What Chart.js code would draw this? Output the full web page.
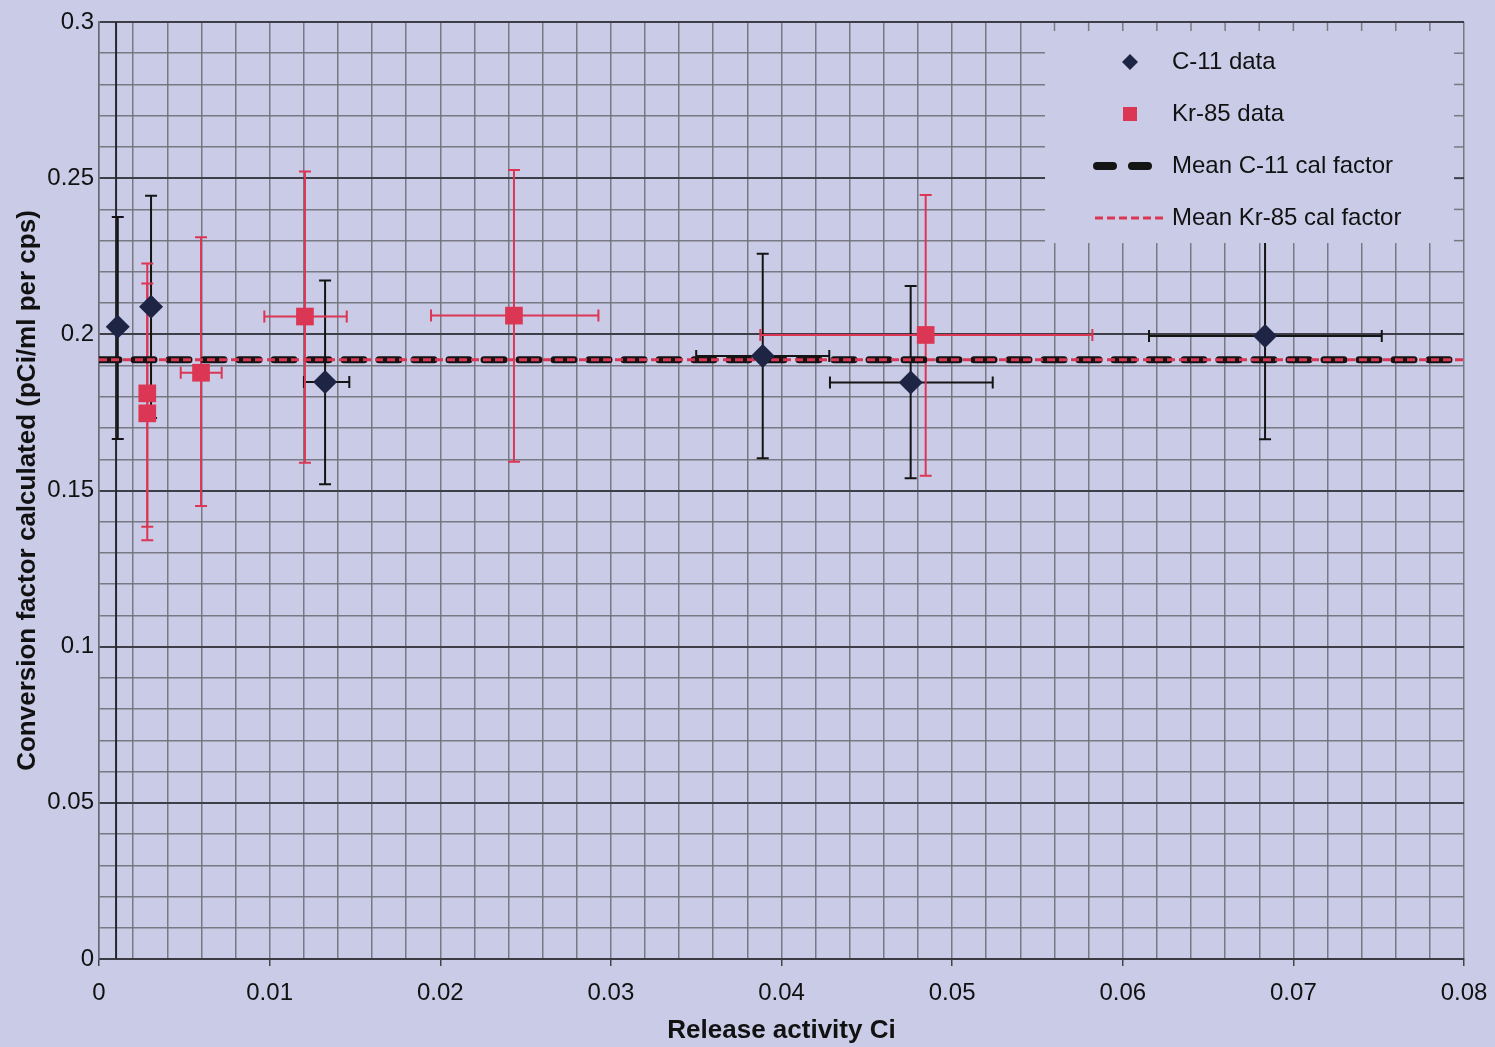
<!DOCTYPE html>
<html>
<head>
<meta charset="utf-8">
<script src="https://cdn.jsdelivr.net/npm/chart.js@4.4.1/dist/chart.umd.min.js"></script>
<style>
  html, body { margin: 0; padding: 0; background: #cacbe7; }
  #wrap { width: 1495px; height: 1047px; position: relative; }
</style>
</head>
<body>
<div id="wrap"><canvas id="c"></canvas></div>
<script>
// ---- Data ----
const c11X   = [0.0011, 0.00305, 0.01325, 0.0389, 0.04757, 0.06834];
const c11Y   = [0.2024, 0.2088, 0.1847, 0.1931, 0.1846, 0.1995];
const c11YLo = [0.1665, 0.1732, 0.1520, 0.1603, 0.1539, 0.1664];
const c11YHi = [0.2376, 0.2444, 0.2172, 0.2258, 0.2155, 0.2326];
const c11XLo = [null, null, 0.01201, 0.0350, 0.04284, 0.06154];
const c11XHi = [null, null, 0.01467, 0.0428, 0.05238, 0.07518];

const kr85X   = [0.00283, 0.00283, 0.00598, 0.01207, 0.02432, 0.04845];
const kr85Y   = [0.1811, 0.1747, 0.1877, 0.2057, 0.2060, 0.1998];
const kr85YLo = [0.1384, 0.1341, 0.1450, 0.1589, 0.1592, 0.1547];
const kr85YHi = [0.2227, 0.2163, 0.2311, 0.2521, 0.2526, 0.2446];
const kr85XLo = [null, null, 0.00479, 0.00969, 0.01946, 0.03876];
const kr85XHi = [null, null, 0.00719, 0.01452, 0.02927, 0.05822];

const c11Mean  = 0.1919;
const kr85Mean = 0.1919;
const meanRange = [0, 0.08];
const darkRuleX = 0.001;   // dark vertical rule running the full height

const xTickLabels = ['0', '0.01', '0.02', '0.03', '0.04', '0.05', '0.06', '0.07', '0.08'];
const yTickLabels = ['0', '0.05', '0.1', '0.15', '0.2', '0.25', '0.3'];

const legendLabels = ['C-11 data', 'Kr-85 data', 'Mean C-11 cal factor', 'Mean Kr-85 cal factor'];
const xTitle = 'Release activity Ci';
const yTitle = 'Conversion factor calculated (pCi/ml per cps)';

// ---- Styles ----
const BG = '#cacbe7';
const NAVY = '#1d2444';
const RED = '#db3653';
const BLACK = '#141414';
const MINOR = 'rgba(112,112,120,0.9)';
const MAJOR = '#3e3e48';
const FONT = '"Liberation Sans", Arial, sans-serif';

function near(v, step) { return Math.abs(v / step - Math.round(v / step)) < 1e-6; }

function toPts(xs, ys, xlo, xhi, ylo, yhi) {
  return xs.map((x, i) => ({ x: x, y: ys[i], xlo: xlo[i], xhi: xhi[i], ylo: ylo[i], yhi: yhi[i] }));
}

const bgPlugin = {
  id: 'bg',
  beforeDraw(chart) {
    const ctx = chart.ctx;
    ctx.save();
    ctx.fillStyle = BG;
    ctx.fillRect(0, 0, chart.width, chart.height);
    ctx.restore();
  }
};

const errorBarPlugin = {
  id: 'errbars',
  beforeDatasetsDraw(chart) {
    const ctx = chart.ctx;
    const xs = chart.scales.x, ys = chart.scales.y;
    const ca = chart.chartArea;
    ctx.save();
    ctx.beginPath();
    ctx.rect(ca.left, ca.top, ca.right - ca.left, ca.bottom - ca.top);
    ctx.clip();
    // dark full-height rule
    const rx = xs.getPixelForValue(darkRuleX);
    ctx.strokeStyle = '#26262c';
    ctx.lineWidth = 2;
    ctx.beginPath(); ctx.moveTo(rx, ca.top); ctx.lineTo(rx, ca.bottom); ctx.stroke();
    chart.data.datasets.forEach(ds => {
      if (!ds.errorColor) return;
      ctx.strokeStyle = ds.errorColor;
      ctx.lineWidth = 2;
      const cap = 6;
      ds.data.forEach(p => {
        const px = xs.getPixelForValue(p.x), py = ys.getPixelForValue(p.y);
        if (p.ylo != null && p.yhi != null) {
          const a = ys.getPixelForValue(p.ylo), b = ys.getPixelForValue(p.yhi);
          ctx.beginPath();
          ctx.moveTo(px, a); ctx.lineTo(px, b);
          ctx.moveTo(px - cap, a); ctx.lineTo(px + cap, a);
          ctx.moveTo(px - cap, b); ctx.lineTo(px + cap, b);
          ctx.stroke();
        }
        if (p.xlo != null && p.xhi != null) {
          const a = xs.getPixelForValue(p.xlo), b = xs.getPixelForValue(p.xhi);
          ctx.beginPath();
          ctx.moveTo(a, py); ctx.lineTo(b, py);
          ctx.moveTo(a, py - cap); ctx.lineTo(a, py + cap);
          ctx.moveTo(b, py - cap); ctx.lineTo(b, py + cap);
          ctx.stroke();
        }
      });
    });
    ctx.restore();
  }
};

const legendPlugin = {
  id: 'insideLegend',
  afterDraw(chart) {
    const ctx = chart.ctx;
    const ca = chart.chartArea;
    const xs = chart.scales.x, ys = chart.scales.y;
    const L = ca.right - 419, T = ca.top + 1, R = ca.right - 1, B = ca.top + 221;
    ctx.save();
    ctx.fillStyle = BG;
    ctx.fillRect(L, T, R - L, B - T);
    // short grid stubs along the top and right edges
    ctx.strokeStyle = MINOR;
    ctx.lineWidth = 1.5;
    xs.ticks.forEach(t => {
      const px = xs.getPixelForValue(t.value);
      if (px > L + 2 && px < R - 2) {
        ctx.beginPath(); ctx.moveTo(px, T); ctx.lineTo(px, T + 8); ctx.stroke();
      }
    });
    ys.ticks.forEach(t => {
      const py = ys.getPixelForValue(t.value);
      if (py > T + 2 && py < B - 2) {
        ctx.strokeStyle = near(t.value, 0.05) ? MAJOR : MINOR;
        ctx.lineWidth = near(t.value, 0.05) ? 2 : 1.5;
        ctx.beginPath(); ctx.moveTo(R - 9, py); ctx.lineTo(R, py); ctx.stroke();
      }
    });
    const mx = L + 85, tx = L + 127;
    const rows = [T + 39, T + 91, T + 143, T + 195];
    // C-11 marker
    ctx.fillStyle = NAVY;
    ctx.beginPath();
    ctx.moveTo(mx - 8, rows[0]); ctx.lineTo(mx, rows[0] - 8); ctx.lineTo(mx + 8, rows[0]); ctx.lineTo(mx, rows[0] + 8);
    ctx.closePath(); ctx.fill();
    // Kr-85 marker
    ctx.fillStyle = RED;
    ctx.fillRect(mx - 7, rows[1] - 7, 14, 14);
    // Mean C-11 line sample
    ctx.strokeStyle = BLACK;
    ctx.lineWidth = 8;
    ctx.lineCap = 'round';
    ctx.setLineDash([16, 19]);
    ctx.beginPath(); ctx.moveTo(L + 52, rows[2]); ctx.lineTo(L + 108, rows[2]); ctx.stroke();
    // Mean Kr-85 line sample
    ctx.strokeStyle = RED;
    ctx.lineWidth = 3;
    ctx.lineCap = 'butt';
    ctx.setLineDash([8, 4]);
    ctx.beginPath(); ctx.moveTo(L + 50, rows[3]); ctx.lineTo(L + 121, rows[3]); ctx.stroke();
    ctx.setLineDash([]);
    ctx.fillStyle = '#111';
    ctx.font = '24px ' + FONT;
    ctx.textBaseline = 'middle';
    ctx.textAlign = 'left';
    legendLabels.forEach((t, i) => ctx.fillText(t, tx, rows[i]));
    ctx.restore();
  }
};

const chart = new Chart(document.getElementById('c'), {
  type: 'scatter',
  data: {
    datasets: [
      {
        label: legendLabels[2], type: 'line',
        data: meanRange.map(x => ({ x: x, y: c11Mean })),
        borderColor: BLACK, borderWidth: 7, borderDash: [20, 15], borderCapStyle: 'round',
        pointRadius: 0, fill: false, order: 3
      },
      {
        label: legendLabels[3], type: 'line',
        data: meanRange.map(x => ({ x: x, y: kr85Mean })),
        borderColor: RED, borderWidth: 3, borderDash: [8, 4],
        pointRadius: 0, fill: false, order: 2
      },
      {
        label: legendLabels[0],
        data: toPts(c11X, c11Y, c11XLo, c11XHi, c11YLo, c11YHi),
        pointStyle: 'rectRot', pointRadius: 12, pointHoverRadius: 12,
        backgroundColor: NAVY, borderColor: NAVY, borderWidth: 0,
        errorColor: BLACK, order: 1
      },
      {
        label: legendLabels[1],
        data: toPts(kr85X, kr85Y, kr85XLo, kr85XHi, kr85YLo, kr85YHi),
        pointStyle: 'rect', pointRadius: 12.5, pointHoverRadius: 12.5,
        backgroundColor: RED, borderColor: RED, borderWidth: 0,
        errorColor: RED, order: 0
      }
    ]
  },
  options: {
    responsive: true,
    maintainAspectRatio: false,
    animation: false,
    events: [],
    layout: { padding: { left: 0, right: 31, top: 22, bottom: 0 } },
    plugins: { legend: { display: false }, tooltip: { enabled: false } },
    scales: {
      x: {
        type: 'linear', min: 0, max: 0.08,
        afterFit(s) { s.height = 88; s.paddingLeft = 0; s.paddingRight = 0; },
        ticks: {
          stepSize: 0.002, autoSkip: false, maxTicksLimit: 1000, maxRotation: 0,
          padding: 13, color: '#111', font: { family: FONT, size: 24 },
          callback(v) { return near(v, 0.01) ? xTickLabels[Math.round(v / 0.01)] : ''; }
        },
        grid: {
          color: MINOR,
          lineWidth: 1.5,
          tickColor(c) {
            const v = c.tick ? c.tick.value : 0;
            return near(v, 0.01) ? '#444' : 'rgba(0,0,0,0)';
          },
          tickLength: 7
        },
        border: { display: true, color: '#3a3a42', width: 2 },
        title: {
          display: true, text: xTitle, color: '#111',
          font: { family: FONT, size: 26, weight: 'bold' },
          padding: { top: 0, bottom: 1 }
        }
      },
      y: {
        type: 'linear', min: 0, max: 0.3,
        afterFit(s) { s.width = 99; s.paddingTop = 0; s.paddingBottom = 0; },
        ticks: {
          stepSize: 0.01, autoSkip: false, maxTicksLimit: 1000,
          padding: 5, color: '#111', font: { family: FONT, size: 24 },
          callback(v) { return near(v, 0.05) ? yTickLabels[Math.round(v / 0.05)] : ''; }
        },
        grid: {
          drawTicks: false,
          color(c) {
            const v = c.tick ? c.tick.value : 0;
            return near(v, 0.05) ? MAJOR : MINOR;
          },
          lineWidth(c) {
            const v = c.tick ? c.tick.value : 0;
            return near(v, 0.05) ? 2 : 1.5;
          }
        },
        border: { display: true, color: '#6a6a72', width: 1.5 },
        title: {
          display: true, text: yTitle, color: '#111',
          font: { family: FONT, size: 26, weight: 'bold' },
          padding: { top: 12, bottom: 0 }
        }
      }
    }
  },
  plugins: [bgPlugin, errorBarPlugin, legendPlugin]
});
</script>
</body>
</html>
